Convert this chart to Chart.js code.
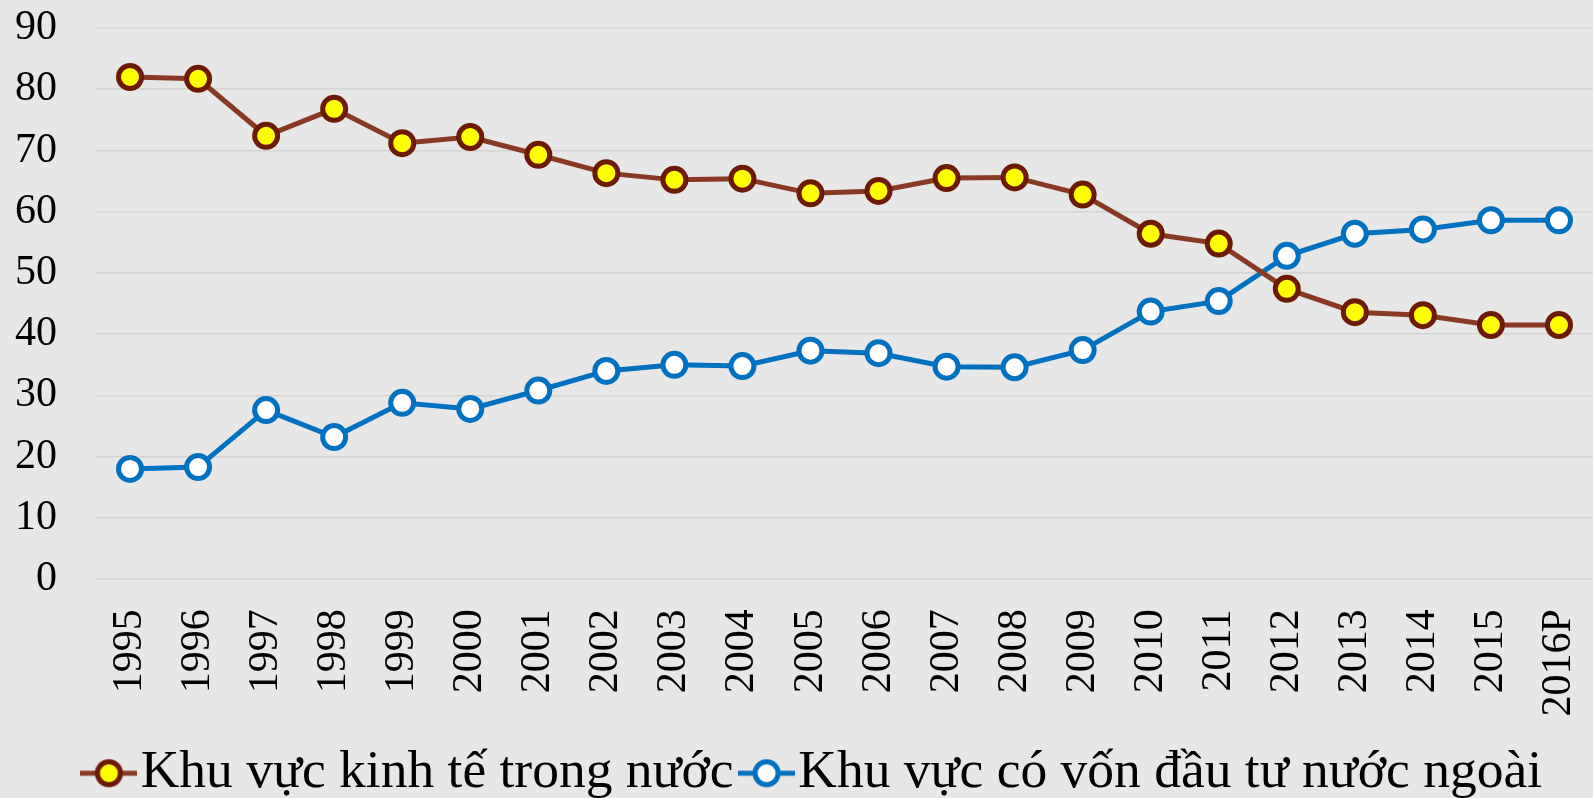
<!DOCTYPE html>
<html>
<head>
<meta charset="utf-8">
<script src="https://cdn.jsdelivr.net/npm/chart.js@4.4.1/dist/chart.umd.min.js"></script>
<style>
    html, body { margin: 0; padding: 0; background: #e7e7e7; }
    #wrap { width: 1593px; height: 798px; position: relative; }
</style>
</head>
<body>
<div id="wrap"><canvas id="shareChart"></canvas></div>
<script>
// ── Data ─────────────────────────────────────────────────
const years    = ['1995','1996','1997','1998','1999','2000','2001','2002','2003','2004','2005',
                  '2006','2007','2008','2009','2010','2011','2012','2013','2014','2015','2016P'];
const domestic = [82.0, 81.7, 72.4, 76.8, 71.2, 72.2, 69.3, 66.3, 65.2, 65.4, 63.0,
                  63.4, 65.5, 65.6, 62.8, 56.4, 54.8, 47.4, 43.6, 43.1, 41.5, 41.5];
const foreign  = [18.0, 18.3, 27.6, 23.2, 28.8, 27.8, 30.8, 34.0, 35.0, 34.8, 37.3,
                  36.9, 34.7, 34.6, 37.4, 43.7, 45.4, 52.8, 56.4, 57.1, 58.6, 58.6];
const yTicks   = [0, 10, 20, 30, 40, 50, 60, 70, 80, 90];
const seriesNames = ['Khu vực kinh tế trong nước', 'Khu vực có vốn đầu tư nước ngoài'];

const FONT = "'Liberation Serif', 'Times New Roman', serif";

// legend marker: short line with a circle on it
function makeMarker(lineColor, ringColor, fill) {
    const c = document.createElement('canvas');
    c.width = 57; c.height = 32;
    const ctx = c.getContext('2d');
    ctx.strokeStyle = lineColor; ctx.lineWidth = 5;
    ctx.beginPath(); ctx.moveTo(0, 16); ctx.lineTo(57, 16); ctx.stroke();
    ctx.beginPath(); ctx.arc(28.5, 16, 11.5, 0, Math.PI * 2);
    ctx.fillStyle = fill; ctx.fill();
    ctx.strokeStyle = ringColor; ctx.lineWidth = 5; ctx.stroke();
    return c;
}
const markers = [
    makeMarker('#8a3a24', '#6e1a02', '#ffff00'),
    makeMarker('#0070c0', '#0070c0', '#ffffff'),
];

// the legend in the original sits a little right of centre
const legendNudge = {
    id: 'legendNudge',
    afterLayout(chart) {
        chart.legend.left += 20;
        chart.legend.right += 20;
    },
};

new Chart(document.getElementById('shareChart'), {
    type: 'line',
    data: {
        labels: years,
        datasets: [
            {
                label: seriesNames[0],
                data: domestic,
                borderColor: '#8a3a24',
                borderWidth: 5,
                pointRadius: 11.5,
                pointBorderWidth: 5,
                pointBackgroundColor: '#ffff00',
                pointBorderColor: '#6e1a02',
                tension: 0,
            },
            {
                label: seriesNames[1],
                data: foreign,
                borderColor: '#0070c0',
                borderWidth: 5,
                pointRadius: 11.5,
                pointBorderWidth: 5,
                pointBackgroundColor: '#ffffff',
                pointBorderColor: '#0070c0',
                tension: 0,
            },
        ],
    },
    plugins: [legendNudge],
    options: {
        responsive: true,
        maintainAspectRatio: false,
        animation: false,
        layout: { autoPadding: false, padding: { top: 28, left: 13, right: 0, bottom: -12 } },
        plugins: {
            tooltip: { enabled: false },
            legend: {
                position: 'bottom',
                labels: {
                    usePointStyle: true,
                    pointStyleWidth: 10,
                    padding: 28,
                    color: '#000',
                    font: { family: FONT, size: 53.5 },
                    generateLabels: chart => {
                        const items = Chart.defaults.plugins.legend.labels.generateLabels(chart);
                        items.forEach((it, i) => { it.pointStyle = markers[i]; });
                        return items;
                    },
                },
            },
        },
        scales: {
            x: {
                offset: true,
                grid: { display: true, drawOnChartArea: false, drawTicks: true, tickLength: 28, tickColor: 'transparent' },
                border: { display: false },
                ticks: {
                    minRotation: 90, maxRotation: 90,
                    padding: 2,
                    color: '#000',
                    font: { family: FONT, size: 42, lineHeight: 0.5 },
                },
            },
            y: {
                min: 0, max: 90,
                afterBuildTicks: axis => { axis.ticks = yTicks.map(v => ({ value: v })); },
                grid: { color: '#d4d4d4', lineWidth: 1.5, drawTicks: true, tickLength: 37, tickColor: 'transparent' },
                border: { display: false },
                ticks: {
                    padding: 2,
                    color: '#000',
                    font: { family: FONT, size: 42 },
                },
            },
        },
    },
});
</script>
</body>
</html>
